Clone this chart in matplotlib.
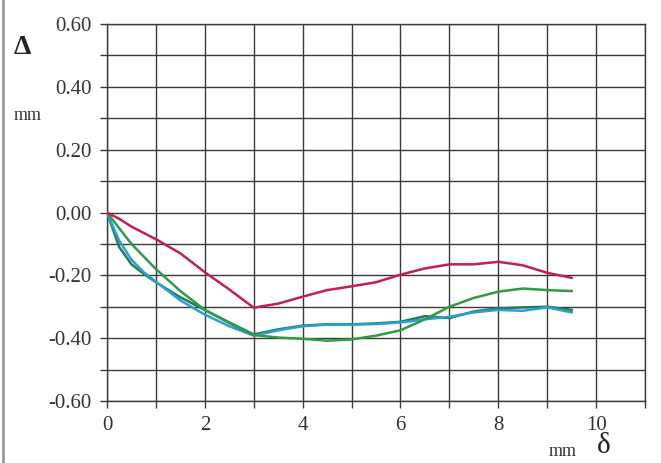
import matplotlib
matplotlib.use("Agg")
import matplotlib.pyplot as plt
from matplotlib.lines import Line2D
import numpy as np

# ---- data ----
x_vals = [0, 0.25, 0.5, 0.75, 1, 1.5, 2, 2.5, 3, 3.5, 4, 4.5, 5, 5.5, 6, 6.5, 7, 7.5, 8, 8.5, 9, 9.5]

red_y = [0, -0.02, -0.045, -0.065, -0.085, -0.13, -0.19, -0.245, -0.303, -0.29, -0.268, -0.247,
         -0.235, -0.222, -0.198, -0.178, -0.165, -0.165, -0.157, -0.168, -0.192, -0.208]
blue_y = [0, -0.09, -0.15, -0.19, -0.22, -0.28, -0.325, -0.362, -0.392, -0.375, -0.362, -0.357,
          -0.357, -0.355, -0.35, -0.34, -0.332, -0.318, -0.31, -0.313, -0.302, -0.318]
green_y = [0, -0.05, -0.10, -0.14, -0.18, -0.25, -0.31, -0.352, -0.39, -0.398, -0.402, -0.408,
           -0.404, -0.392, -0.375, -0.34, -0.30, -0.272, -0.252, -0.242, -0.247, -0.25]
teal_y = [0, -0.11, -0.165, -0.195, -0.222, -0.27, -0.31, -0.35, -0.388, -0.372, -0.36, -0.356,
          -0.356, -0.353, -0.348, -0.33, -0.336, -0.315, -0.305, -0.302, -0.300, -0.31]

x_ticks = [0, 2, 4, 6, 8, 10]
x_tick_labels = ["0", "2", "4", "6", "8", "10"]
y_ticks = [0.6, 0.4, 0.2, 0.0, -0.2, -0.4, -0.6]
y_tick_labels = ["0.60", "0.40", "0.20", "0.00", "-0.20", "-0.40", "-0.60"]

W, H = 661, 463
fig = plt.figure(figsize=(W / 100, H / 100), dpi=100)
serif = ["Liberation Serif", "DejaVu Serif"]

ax = fig.add_axes([107 / W, 1 - 401 / H, (645 - 107) / W, (401 - 24) / H])
ax.set_xlim(0, 11)
ax.set_ylim(-0.6, 0.6)

# grid
for gx in range(0, 12):
    ax.axvline(gx, color="#3a3a3a", lw=1.0, zorder=1)
for gy in np.arange(-6, 7) / 10:
    ax.axhline(gy, color="#3a3a3a", lw=1.0, zorder=1)

ax.plot(x_vals, teal_y, color="#1f7d5e", lw=1.8, zorder=3)
ax.plot(x_vals, blue_y, color="#2a9fd4", lw=1.8, zorder=3)
ax.plot(x_vals, green_y, color="#2f9a48", lw=1.8, zorder=3)
ax.plot(x_vals, red_y, color="#c21f55", lw=1.8, zorder=4)

for s in ax.spines.values():
    s.set_color("#3a3a3a")
    s.set_linewidth(1.0)

ax.set_xticks(range(0, 12), minor=True)
ax.set_yticks(np.arange(-6, 7) / 10, minor=True)
ax.set_xticks(x_ticks)
ax.set_xticklabels(x_tick_labels, fontfamily=serif, fontsize=15, color="#333333")
ax.set_yticks(y_ticks)
ax.set_yticklabels(y_tick_labels, fontfamily=serif, fontsize=15, color="#333333")
ax.tick_params(which="both", direction="out", length=5, width=1, color="#3a3a3a")
ax.tick_params(axis="y", which="major", pad=6)
ax.tick_params(axis="x", which="major", pad=6)

fig.text(22 / W, 1 - 47 / H, "Δ", fontfamily=serif, fontsize=20, fontweight="bold",
         ha="center", va="center", color="#222222")
fig.text(28 / W, 1 - 115 / H, "mm", fontfamily=serif, fontsize=13, ha="center", va="center",
         color="#333333")
fig.text(604 / W, 1 - 446 / H, "δ", fontfamily=serif, fontsize=21, ha="center", va="center",
         color="#222222")
fig.text(563 / W, 1 - 452 / H, "mm", fontfamily=serif, fontsize=13, ha="center", va="center",
         color="#333333")

# scan border line at left
fig.add_artist(Line2D([3 / W, 3 / W], [0, 1], color="#9a9a9a", lw=2))

fig.savefig("out.png", dpi=100, facecolor="white")
